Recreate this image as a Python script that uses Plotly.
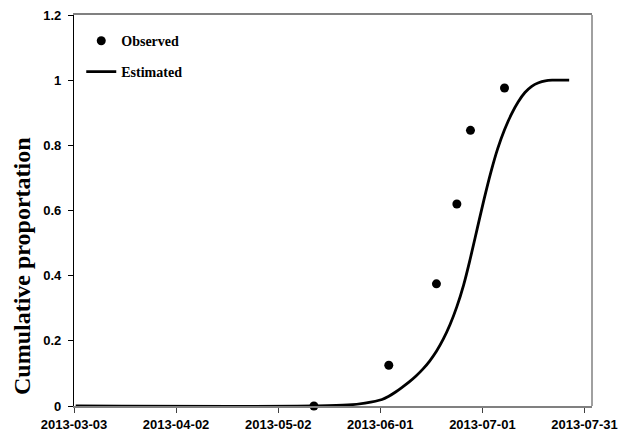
import pandas as pd
import plotly.graph_objects as go

# Observed cumulative proportions
obs_dates = ["2013-05-12", "2013-06-03", "2013-06-17", "2013-06-23", "2013-06-27", "2013-07-07"]
obs_values = [0.0, 0.125, 0.375, 0.62, 0.846, 0.976]

# Estimated cumulative curve
est_dates = ["2013-03-03", "2013-05-12", "2013-05-22", "2013-05-27", "2013-06-01",
             "2013-06-03", "2013-06-05", "2013-06-07", "2013-06-09", "2013-06-11",
             "2013-06-13", "2013-06-15", "2013-06-17", "2013-06-19", "2013-06-21",
             "2013-06-23", "2013-06-25", "2013-06-27", "2013-06-29", "2013-07-01",
             "2013-07-03", "2013-07-05", "2013-07-07", "2013-07-09", "2013-07-11",
             "2013-07-13", "2013-07-15", "2013-07-17", "2013-07-19", "2013-07-21",
             "2013-07-26"]
est_values = [0.0, 0.0, 0.003, 0.009, 0.020,
              0.030, 0.043, 0.058, 0.074, 0.092,
              0.113, 0.138, 0.168, 0.205, 0.250,
              0.305, 0.372, 0.455, 0.545, 0.635,
              0.718, 0.790, 0.848, 0.895, 0.933,
              0.962, 0.981, 0.992, 0.998, 1.0,
              1.0]

x_tick_labels = ["2013-03-03", "2013-04-02", "2013-05-02", "2013-06-01", "2013-07-01", "2013-07-31"]
y_tick_values = [0, 0.2, 0.4, 0.6, 0.8, 1.0, 1.2]
y_tick_labels = ["0", "0.2", "0.4", "0.6", "0.8", "1", "1.2"]
y_title = "Cumulative proportation"

# Days are drawn in the middle of their slot; tick marks sit at the slot start
half_day = pd.Timedelta(hours=12)
x_tick_vals = [pd.Timestamp(d) - half_day for d in x_tick_labels]

serif = "Liberation Serif, Times New Roman, serif"
sans = "Liberation Sans, Arial, sans-serif"

fig = go.Figure()
fig.add_trace(go.Scatter(
    x=obs_dates, y=obs_values, mode="markers", name="Observed",
    marker=dict(color="black", size=9),
    cliponaxis=False, showlegend=True,
    legend="legend",
))
fig.add_trace(go.Scatter(
    x=est_dates, y=est_values, mode="lines", name="Estimated",
    line=dict(color="black", width=2.8, shape="spline", smoothing=1.0),
    showlegend=True,
    legend="legend2",
))

legend_font = dict(family=serif, size=14, color="black", weight="bold")
fig.update_layout(
    width=628, height=437,
    margin=dict(l=74, r=36, t=15, b=31),
    paper_bgcolor="white", plot_bgcolor="white",
    showlegend=True,
    legend=dict(x=0.014, y=0.933, xanchor="left", yanchor="middle",
                font=legend_font, bgcolor="rgba(0,0,0,0)"),
    legend2=dict(x=0.014, y=0.854, xanchor="left", yanchor="middle",
                 font=legend_font, bgcolor="rgba(0,0,0,0)"),
    xaxis=dict(
        type="date", automargin=False,
        range=[pd.Timestamp("2013-03-03") - half_day, "2013-08-01 17:00"],
        tickvals=x_tick_vals, ticktext=x_tick_labels,
        ticks="outside", ticklen=5, tickcolor="#404040", tickwidth=1.2,
        showline=True, linecolor="#808080", linewidth=1.5, mirror=True,
        showgrid=False, zeroline=False,
        ticklabelstandoff=1,
        tickfont=dict(family=sans, size=13, color="black", weight="bold"),
    ),
    yaxis=dict(
        range=[0, 1.2], automargin=False,
        tickvals=y_tick_values, ticktext=y_tick_labels,
        ticks="outside", ticklen=5, tickcolor="black", tickwidth=1.2,
        showline=True, linecolor="black", linewidth=1.3,
        showgrid=False, zeroline=False,
        ticklabelstandoff=4,
        tickfont=dict(family=sans, size=13, color="black", weight="bold"),
    ),
    annotations=[dict(
        text=y_title, textangle=-90, showarrow=False,
        xref="paper", yref="paper", x=0, y=0.358,
        xanchor="center", yanchor="middle", xshift=-52,
        font=dict(family=serif, size=24, color="black", weight="bold"),
    )],
    shapes=[dict(type="line", xref="paper", yref="paper", x0=1, x1=1, y0=0, y1=1,
                 line=dict(color="#808080", width=1.5))],
)

fig.write_html("out.html")
